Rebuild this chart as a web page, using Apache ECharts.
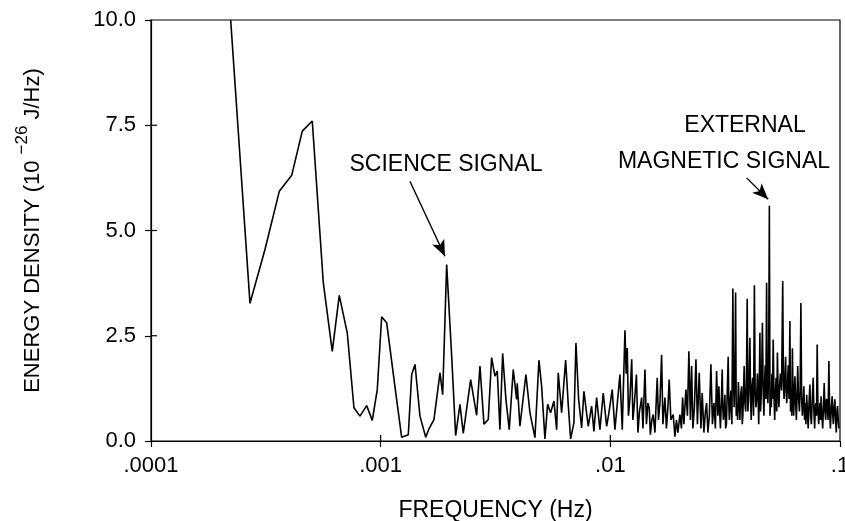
<!DOCTYPE html>
<html>
<head>
<meta charset="utf-8">
<script src="https://cdn.jsdelivr.net/npm/echarts@6/dist/echarts.min.js"></script>
<style>
  html, body { margin: 0; padding: 0; background: #fff; }
  #chart { width: 845px; height: 521px; }
</style>
</head>
<body>
<div id="chart"></div>
<script>
// frequency (Hz) and energy density (1e-26 J/Hz)
var freq = [
  2.223e-4, 2.698e-4, 3.135e-4, 3.619e-4, 4.099e-4, 4.557e-4, 5.037e-4, 5.626e-4, 6.156e-4, 6.603e-4,
  7.154e-4, 7.651e-4, 8.124e-4, 8.692e-4, 9.193e-4, 9.665e-4, 1.010e-3, 1.062e-3, 1.166e-3, 1.234e-3,
  1.319e-3, 1.365e-3, 1.411e-3, 1.483e-3, 1.571e-3, 1.623e-3, 1.706e-3, 1.813e-3, 1.862e-3, 1.938e-3,
  2.038e-3, 2.121e-3, 2.214e-3, 2.289e-3, 2.465e-3, 2.617e-3, 2.706e-3, 2.817e-3, 2.941e-3, 3.042e-3,
  3.145e-3, 3.219e-3, 3.306e-3, 3.397e-3, 3.511e-3, 3.629e-3, 3.778e-3, 3.908e-3, 3.932e-3, 4.040e-3,
  4.290e-3, 4.467e-3, 4.696e-3, 4.888e-3, 5.022e-3, 5.191e-3, 5.333e-3, 5.497e-3, 5.681e-3, 5.838e-3,
  5.932e-3, 6.137e-3, 6.388e-3, 6.556e-3, 6.716e-3, 6.942e-3, 7.083e-3, 7.277e-3, 7.500e-3, 7.674e-3,
  8.011e-3, 8.289e-3, 8.482e-3, 8.715e-3, 9.009e-3, 9.312e-3, 9.636e-3, 9.860e-3, 0.01019, 0.01047,
  0.01101, 0.01127, 0.01158, 0.01172, 0.01185, 0.01199, 0.01217, 0.01239, 0.01254, 0.01273,
  0.01299, 0.01319, 0.01339, 0.01369, 0.01387, 0.01415, 0.01436, 0.01458, 0.01477, 0.01494,
  0.01517, 0.01537, 0.01564, 0.01600, 0.01620, 0.01644, 0.01672, 0.01694, 0.01729, 0.01755,
  0.01781, 0.01804, 0.01835, 0.01878, 0.01911, 0.01940, 0.01969, 0.02009, 0.02040, 0.02064,
  0.02091, 0.02133, 0.02166, 0.02198, 0.02232, 0.02259, 0.02288, 0.02323, 0.02359, 0.02394,
  0.02438, 0.02480, 0.02512, 0.02555, 0.02594, 0.02625, 0.02659, 0.02699, 0.02741, 0.02783,
  0.02825, 0.02867, 0.02902, 0.02939, 0.02970, 0.02992, 0.03015, 0.03042, 0.03070, 0.03088,
  0.03107, 0.03130, 0.03154, 0.03178, 0.03202, 0.03231, 0.03260, 0.03279, 0.03298, 0.03323,
  0.03349, 0.03382, 0.03416, 0.03438, 0.03461, 0.03486, 0.03511, 0.03534, 0.03557, 0.03583,
  0.03610, 0.03638, 0.03666, 0.03697, 0.03729, 0.03753, 0.03777, 0.03801, 0.03826, 0.03855,
  0.03885, 0.03914, 0.03944, 0.03971, 0.03999, 0.04025, 0.04052, 0.04078, 0.04105, 0.04136,
  0.04168, 0.04203, 0.04239, 0.04271, 0.04304, 0.04336, 0.04369, 0.04398, 0.04427, 0.04453,
  0.04480, 0.04507, 0.04534, 0.04564, 0.04594, 0.04628, 0.04663, 0.04693, 0.04724, 0.04757,
  0.04791, 0.04822, 0.04853, 0.04889, 0.04925, 0.04958, 0.04992, 0.05022, 0.05052, 0.05085,
  0.05118, 0.05156, 0.05195, 0.05232, 0.05270, 0.05304, 0.05339, 0.05379, 0.05420, 0.05460,
  0.05501, 0.05566, 0.05631, 0.05670, 0.05710, 0.05753, 0.05797, 0.05829, 0.05861, 0.05905,
  0.05949, 0.06000, 0.06051, 0.06090, 0.06130, 0.06167, 0.06205, 0.06245, 0.06286, 0.06324,
  0.06362, 0.06410, 0.06459, 0.06501, 0.06544, 0.06600, 0.06656, 0.06706, 0.06757, 0.06808,
  0.06859, 0.06911, 0.06963, 0.07008, 0.07054, 0.07107, 0.07161, 0.07215, 0.07269, 0.07331,
  0.07394, 0.07450, 0.07506, 0.07574, 0.07642, 0.07700, 0.07757, 0.07805, 0.07853, 0.07904,
  0.07955, 0.08015, 0.08076, 0.08125, 0.08174, 0.08223, 0.08273, 0.08340, 0.08408, 0.08471,
  0.08535, 0.08600, 0.08664, 0.08729, 0.08794, 0.08870, 0.08946, 0.09013, 0.09081, 0.09164,
  0.09247, 0.09302, 0.09357, 0.09428, 0.09500, 0.09567, 0.09634, 0.09697, 0.09760, 0.09824,
  0.09889
];
var energy = [
  10.0, 3.27, 4.55, 5.93, 6.31, 7.36, 7.60, 3.76, 2.13, 3.46,
  2.57, 0.79, 0.59, 0.84, 0.49, 1.22, 2.95, 2.81, 1.10, 0.09,
  0.15, 1.58, 1.82, 0.59, 0.09, 0.29, 0.51, 1.62, 1.10, 4.19,
  2.01, 0.13, 0.87, 0.18, 1.46, 0.61, 1.78, 0.40, 0.51, 1.98,
  1.54, 1.66, 0.27, 2.08, 0.99, 0.27, 1.70, 0.99, 1.37, 0.35,
  1.58, 0.67, 0.08, 1.92, 1.30, 0.05, 0.87, 0.67, 0.95, 0.27,
  1.62, 0.67, 1.92, 0.87, 0.05, 0.43, 2.33, 0.99, 0.31, 1.18,
  0.35, 0.83, 0.23, 1.03, 0.27, 1.14, 0.35, 0.67, 1.22, 0.27,
  1.58, 0.27, 2.63, 1.60, 2.21, 0.60, 1.00, 1.94, 0.50, 0.90,
  1.58, 0.20, 0.70, 1.03, 0.30, 1.70, 0.40, 0.90, 0.79, 0.15,
  0.50, 0.63, 0.20, 1.50, 0.50, 0.90, 2.05, 0.40, 1.03, 0.30,
  0.80, 1.46, 0.50, 0.63, 0.10, 0.50, 0.20, 0.63, 0.30, 1.03,
  0.40, 1.22, 0.60, 2.13, 0.50, 1.78, 0.30, 0.80, 1.94, 0.40,
  1.62, 0.30, 1.14, 0.20, 0.70, 0.90, 0.20, 0.60, 1.82, 0.40,
  0.90, 0.30, 1.66, 0.60, 1.30, 0.70, 0.30, 0.90, 1.70, 0.80,
  0.50, 0.70, 1.10, 0.30, 0.40, 1.20, 2.00, 0.90, 0.50, 0.90,
  1.20, 0.40, 3.62, 1.50, 0.80, 1.60, 3.53, 0.60, 0.90, 0.50,
  1.40, 0.90, 0.50, 1.10, 1.30, 0.40, 0.60, 1.20, 1.78, 0.90,
  0.70, 1.40, 3.38, 0.70, 1.00, 1.60, 2.45, 1.10, 0.50, 1.30,
  1.50, 0.60, 3.70, 1.20, 0.80, 1.00, 1.60, 1.10, 0.40, 1.40,
  2.57, 0.70, 1.00, 1.70, 2.81, 1.20, 0.60, 1.30, 1.80, 1.00,
  3.76, 1.30, 0.90, 1.60, 5.59, 0.60, 1.20, 0.80, 1.60, 1.00,
  2.41, 1.20, 0.50, 1.10, 1.50, 0.70, 2.10, 1.20, 0.80, 1.30,
  1.60, 1.20, 3.80, 1.40, 1.00, 1.50, 2.00, 1.20, 0.90, 1.30,
  1.80, 1.00, 2.85, 0.70, 1.20, 0.60, 2.20, 1.00, 0.60, 1.20,
  1.54, 0.90, 0.50, 1.10, 1.78, 1.00, 0.70, 1.20, 3.28, 1.00,
  0.60, 0.90, 1.30, 0.50, 0.90, 0.40, 1.10, 0.70, 0.30, 0.90,
  1.34, 0.60, 0.40, 1.00, 1.50, 0.70, 0.30, 0.80, 0.90, 0.60,
  2.29, 0.80, 0.40, 0.70, 0.90, 0.50, 1.06, 0.60, 0.30, 0.80,
  1.38, 0.70, 0.50, 1.00, 0.90, 0.50, 1.90, 0.70, 0.30, 0.80,
  1.06, 0.60, 0.40, 0.80, 0.99, 0.50, 0.20, 0.70, 0.83, 0.50,
  0.30
];
var xTickValues = [0.0001, 0.001, 0.01, 0.1];
var xTickLabels = ['.0001', '.001', '.01', '.1'];
var yTickValues = [0, 2.5, 5, 7.5, 10];
var yTickLabels = ['0.0', '2.5', '5.0', '7.5', '10.0'];
// annotation arrows [from, to] in data coords
var scienceArrow = [[1.341e-3, 6.17], [1.905e-3, 4.39]];
var magneticArrow = [[0.03921, 6.25], [0.04868, 5.74]];

var FONT = '"Liberation Sans", Arial, sans-serif';
var TICK = 6;
var chart = echarts.init(document.getElementById('chart'));

function arrowLine(a) {
    return [{ coord: a[0] }, { coord: a[1] }];
}

var labels = [
    { id: 'sci', type: 'text', x: 446, y: 165, style: { text: 'SCIENCE SIGNAL', fill: '#000', font: '23px ' + FONT, align: 'center', verticalAlign: 'middle' } },
    { id: 'ext', type: 'text', x: 745, y: 126, style: { text: 'EXTERNAL', fill: '#000', font: '23px ' + FONT, align: 'center', verticalAlign: 'middle' } },
    { id: 'mag', type: 'text', x: 724, y: 162, style: { text: 'MAGNETIC SIGNAL', fill: '#000', font: '23px ' + FONT, align: 'center', verticalAlign: 'middle' } }
];

var option = {
    backgroundColor: '#fff',
    animation: false,
    grid: {
        left: 151, right: 5, top: 20, bottom: 80,
        outerBoundsMode: 'none',
        containLabel: false,
        show: true, borderColor: '#000', borderWidth: 1.2, backgroundColor: 'transparent'
    },
    xAxis: {
        type: 'log',
        logBase: 10,
        min: xTickValues[0],
        max: xTickValues[xTickValues.length - 1],
        axisLine: { show: true, onZero: false, lineStyle: { color: '#000', width: 1.2 } },
        axisTick: { show: true, length: TICK, lineStyle: { color: '#000', width: 1.2 } },
        minorTick: { show: false },
        splitLine: { show: false },
        axisLabel: {
            margin: 14,
            color: '#000',
            fontFamily: FONT,
            fontSize: 22,
            formatter: function (v) { return xTickLabels[Math.round(Math.log10(v)) + 4]; }
        },
        name: 'FREQUENCY (Hz)',
        nameLocation: 'middle',
        nameGap: 58,
        nameTextStyle: { color: '#000', fontFamily: FONT, fontSize: 23 }
    },
    yAxis: {
        type: 'value',
        min: 0,
        max: 10,
        interval: 2.5,
        axisLine: { show: true, onZero: false, lineStyle: { color: '#000', width: 1.2 } },
        axisTick: { show: true, length: TICK, lineStyle: { color: '#000', width: 1.2 } },
        splitLine: { show: false },
        axisLabel: {
            margin: 15,
            color: '#000',
            fontFamily: FONT,
            fontSize: 22,
            formatter: function (v) { return yTickLabels[Math.round(v / 2.5)]; }
        },
        name: '{m|ENERGY DENSITY (10 }{sup|−26}{m| J/Hz)}',
        nameLocation: 'middle',
        nameRotate: 90,
        nameGap: 107,
        nameTextStyle: {
            color: '#000', fontFamily: FONT, fontSize: 22,
            rich: {
                m: { color: '#000', fontFamily: FONT, fontSize: 22, lineHeight: 30, verticalAlign: 'bottom' },
                sup: { color: '#000', fontFamily: FONT, fontSize: 17, lineHeight: 17, verticalAlign: 'top' }
            }
        }
    },
    series: [{
        type: 'line',
        showSymbol: false,
        clip: true,
        lineStyle: { color: '#000', width: 1.6 },
        data: freq.map(function (f, i) { return [f, energy[i]]; }),
        markLine: {
            silent: true,
            symbol: ['none', 'arrow'],
            symbolSize: [10, 16],
            label: { show: false },
            lineStyle: { color: '#000', width: 1.4, type: 'solid' },
            data: [arrowLine(scienceArrow), arrowLine(magneticArrow)]
        }
    }],
    graphic: labels
};
chart.setOption(option);

// ticks cross the frame: the axes draw the outer half, the inner half is placed from the axis scales
var inner = [];
var finder = { xAxisIndex: 0, yAxisIndex: 0 };
xTickValues.slice(1, -1).forEach(function (v, i) {
    var p = chart.convertToPixel(finder, [v, 0]);
    inner.push({ id: 'xt' + i, type: 'line', silent: true, z: 50,
        shape: { x1: p[0], y1: p[1], x2: p[0], y2: p[1] - TICK },
        style: { stroke: '#000', lineWidth: 1.2 } });
});
yTickValues.slice(1, -1).forEach(function (v, i) {
    var p = chart.convertToPixel(finder, [xTickValues[0], v]);
    inner.push({ id: 'yt' + i, type: 'line', silent: true, z: 50,
        shape: { x1: p[0], y1: p[1], x2: p[0] + TICK, y2: p[1] },
        style: { stroke: '#000', lineWidth: 1.2 } });
});
chart.setOption({ graphic: labels.concat(inner) });
</script>
</body>
</html>
